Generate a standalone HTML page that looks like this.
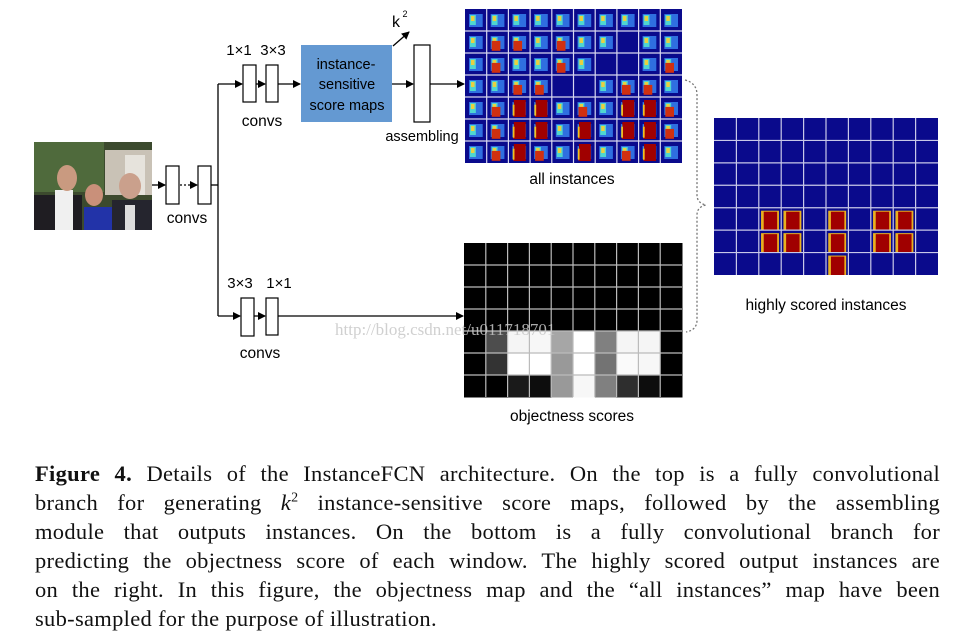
<!DOCTYPE html>
<html><head><meta charset="utf-8">
<style>
html,body{margin:0;padding:0;background:#fff;}
body{width:965px;height:639px;position:relative;overflow:hidden;font-family:"Liberation Sans",sans-serif;}
svg{position:absolute;left:0;top:0;}
.cap{position:absolute;left:35px;width:905px;font-family:"Liberation Serif",serif;font-size:22.5px;letter-spacing:0.3px;color:#111;line-height:29px;}
.cap div{text-align:justify;text-align-last:justify;height:29px;white-space:nowrap;}
.cap div.last{text-align-last:left;}
</style></head><body>
<svg width="965" height="639" viewBox="0 0 965 639">
<defs>
<marker id="ah" markerWidth="8" markerHeight="8" refX="7" refY="4" orient="auto" markerUnits="userSpaceOnUse"><path d="M0,0 L8,4 L0,8 z" fill="#000"/></marker>
</defs>
<g>
<rect x="34" y="142" width="118" height="88" fill="#3c4a2e"/>
<rect x="34" y="142" width="70" height="50" fill="#4f6a3c"/>
<rect x="105" y="150" width="47" height="45" fill="#c9c2b6"/>
<rect x="125" y="155" width="20" height="40" fill="#e6e3dc"/>
<rect x="34" y="195" width="48" height="35" fill="#1f1d22"/>
<rect x="55" y="190" width="18" height="40" fill="#f0f0f0"/>
<ellipse cx="67" cy="178" rx="10" ry="13" fill="#c99a80"/>
<rect x="84" y="207" width="30" height="23" fill="#2233a8"/>
<ellipse cx="94" cy="195" rx="9" ry="11" fill="#c9907a"/>
<rect x="112" y="200" width="40" height="30" fill="#25252e"/>
<ellipse cx="130" cy="186" rx="11" ry="13" fill="#caa08c"/>
<rect x="125" y="205" width="10" height="25" fill="#ddd"/>
</g>
<g stroke="#000" stroke-width="1.3" fill="none">
<line x1="152" y1="185" x2="165" y2="185" marker-end="url(#ah)"/>
<line x1="180" y1="185" x2="197" y2="185" stroke-dasharray="2,2" marker-end="url(#ah)"/>
<line x1="211" y1="185" x2="218" y2="185"/>
<polyline points="218,84 218,316"/>
<line x1="218" y1="84" x2="242" y2="84" marker-end="url(#ah)"/>
<line x1="256" y1="84" x2="265" y2="84" marker-end="url(#ah)"/>
<line x1="278" y1="84" x2="300" y2="84" marker-end="url(#ah)"/>
<line x1="392" y1="84" x2="413" y2="84" marker-end="url(#ah)"/>
<line x1="430" y1="84" x2="464" y2="84" marker-end="url(#ah)"/>
<line x1="393" y1="46" x2="409" y2="32" marker-end="url(#ah)"/>
<line x1="218" y1="316" x2="240" y2="316" marker-end="url(#ah)"/>
<line x1="254" y1="316" x2="265" y2="316" marker-end="url(#ah)"/>
<line x1="278" y1="316" x2="463" y2="316" marker-end="url(#ah)"/>
<path d="M685,80 Q697,83 697,95 L697,195 Q697,203 706,205 Q697,207 697,215 L697,320 Q697,330 686,332" stroke="#777" stroke-dasharray="2,2"/>
</g>
<g fill="#fff" stroke="#000" stroke-width="1.2">
<rect x="166" y="166" width="13" height="38"/>
<rect x="198" y="166" width="13" height="38"/>
<rect x="243" y="65" width="13" height="37"/>
<rect x="266" y="65" width="12" height="37"/>
<rect x="414" y="45" width="16" height="77"/>
<rect x="241" y="298" width="13" height="38"/>
<rect x="266" y="298" width="12" height="37"/>
</g>
<rect x="301" y="45" width="91" height="77" fill="#6499d2"/>
<g font-family="Liberation Sans, sans-serif" font-size="14.5" fill="#000" text-anchor="middle">
<text x="346" y="69">instance-</text>
<text x="347" y="89">sensitive</text>
<text x="347" y="110">score maps</text>
<text x="187" y="223" font-size="15.5">convs</text>
<text x="262" y="126" font-size="15.5">convs</text>
<text x="260" y="358" font-size="15.5">convs</text>
<text x="239" y="55" font-size="15">1×1</text>
<text x="273" y="55" font-size="15">3×3</text>
<text x="240" y="288" font-size="15">3×3</text>
<text x="279" y="288" font-size="15">1×1</text>
<text x="396" y="27" font-size="16">k</text>
<text x="405" y="17" font-size="9">2</text>
<text x="422" y="141" font-size="14.5">assembling</text>
<text x="572" y="184" font-size="15.5">all instances</text>
<text x="572" y="421" font-size="15.5">objectness scores</text>
<text x="826" y="310" font-size="15.5">highly scored instances</text>
</g>
<g id="allmap"></g>
<g id="objmap"></g>
<g id="hsmap"></g>
<text x="335" y="335" font-family="Liberation Serif, serif" font-size="17" fill="#c8c8c8" opacity="0.85">http://blog.csdn.net/u011718701</text>
</svg>
<div class="cap" style="top:459px">
<div><b>Figure 4.</b> Details of the InstanceFCN architecture. On the top is a fully convolutional</div>
<div>branch for generating <i>k</i><sup style="font-size:14px;line-height:0">2</sup> instance-sensitive score maps, followed by the assembling</div>
<div>module that outputs instances. On the bottom is a fully convolutional branch for</div>
<div>predicting the objectness score of each window. The highly scored output instances are</div>
<div>on the right. In this figure, the objectness map and the “all instances” map have been</div>
<div class="last">sub-sampled for the purpose of illustration.</div>
</div>
<script>
var objScores=[
[0,0,0,0,0,0,0,0,0,0],[0,0,0,0,0,0,0,0,0,0],[0,0,0,0,0,0,0,0,0,0],[0,0,0,0,0,0,0,0,0,0],
[0,0.3,0.96,0.97,0.65,1,0.5,0.96,0.96,0],
[0,0.2,1,1,0.6,1,0.45,0.98,0.97,0],
[0,0,0.1,0.05,0.6,0.97,0.5,0.18,0.05,0]];
// all-instances: 0=faint,1=mixed cyan/yellow,2=partial red,3=strong red figure
var allLevels=[
[1,1,1,1,1,1,1,1,1,1],[1,2,2,1,2,1,1,0,1,1],[1,2,1,1,2,1,0,0,1,2],
[1,1,2,2,0,0,1,2,2,1],[1,2,3,3,1,2,1,3,3,2],[1,2,3,3,1,3,1,3,3,2],[1,2,3,2,1,3,1,2,3,1]];
// highly scored: 1=figure cell
var hsCells=[
[0,0,0,0,0,0,0,0,0,0],[0,0,0,0,0,0,0,0,0,0],[0,0,0,0,0,0,0,0,0,0],[0,0,0,0,0,0,0,0,0,0],
[0,0,1,1,0,1,0,1,1,0],[0,0,1,1,0,1,0,1,1,0],[0,0,0,0,0,1,0,0,0,0]];
var NS='http://www.w3.org/2000/svg';
function mk(t,a,p){var e=document.createElementNS(NS,t);for(var k in a)e.setAttribute(k,a[k]);p.appendChild(e);return e;}
function grid(g,x0,y0,w,h,rows,cols,col){
  for(var i=1;i<cols;i++)mk('line',{x1:x0+w*i/cols,y1:y0,x2:x0+w*i/cols,y2:y0+h,stroke:col,'stroke-width':1.2},g);
  for(var j=1;j<rows;j++)mk('line',{x1:x0,y1:y0+h*j/rows,x2:x0+w,y2:y0+h*j/rows,stroke:col,'stroke-width':1.2},g);
}
(function(){var g=document.getElementById('objmap'),x0=464,y0=243,w=218,h=154,R=objScores.length,C=objScores[0].length;
for(var r=0;r<R;r++)for(var c=0;c<C;c++){var v=Math.round(objScores[r][c]*255);
var e=mk('rect',{x:x0+c*w/C,y:y0+r*h/R,width:w/C+0.5,height:h/R+0.5,fill:'rgb('+v+','+v+','+v+')'},g);

}
grid(g,x0,y0,w,h,R,C,'#bbb');})();
(function(){var g=document.getElementById('allmap'),x0=465,y0=9,w=217,h=154,R=allLevels.length,C=allLevels[0].length;
mk('rect',{x:x0,y:y0,width:w,height:h,fill:'#0a0a8c'},g);
var cw=w/C,ch=h/R;
for(var r=0;r<R;r++)for(var c=0;c<C;c++){var L=allLevels[r][c],x=x0+c*cw,y=y0+r*ch;
var e=mk('g',{},g);


if(L>=1){mk('rect',{x:x+4,y:y+5,width:cw-8,height:ch-9,fill:'#2f6fe0'},e);
mk('rect',{x:x+5,y:y+6,width:(cw-10)*0.5,height:ch-12,fill:'#4fd6d0'},e);
mk('rect',{x:x+6,y:y+7,width:(cw-10)*0.3,height:(ch-12)*0.5,fill:'#e8d040'},e);}
if(L>=2){mk('rect',{x:x+5,y:y+ch*0.45,width:cw*0.4,height:ch*0.45,fill:'#d03010'},e);}
if(L>=3){mk('rect',{x:x+cw*0.25,y:y+3,width:cw*0.55,height:ch-5,fill:'#a00000'},e);
mk('rect',{x:x+cw*0.2,y:y+ch*0.35,width:cw*0.08,height:ch*0.5,fill:'#f0c020'},e);}
}
grid(g,x0,y0,w,h,R,C,'#d8d8f0');})();
(function(){var g=document.getElementById('hsmap'),x0=714,y0=118,w=224,h=157,R=hsCells.length,C=hsCells[0].length;
mk('rect',{x:x0,y:y0,width:w,height:h,fill:'#0a0a8c'},g);
var cw=w/C,ch=h/R;
for(var r=0;r<R;r++)for(var c=0;c<C;c++){if(!hsCells[r][c])continue;var x=x0+c*cw,y=y0+r*ch;
var e=mk('g',{},g);


mk('rect',{x:x+cw*0.1,y:y+3,width:cw*0.8,height:ch-3,fill:'#e8b020'},e);
mk('rect',{x:x+cw*0.22,y:y+4,width:cw*0.6,height:ch-4,fill:'#a00000'},e);}
grid(g,x0,y0,w,h,R,C,'#c8c8e8');})();
</script>
</body></html>
